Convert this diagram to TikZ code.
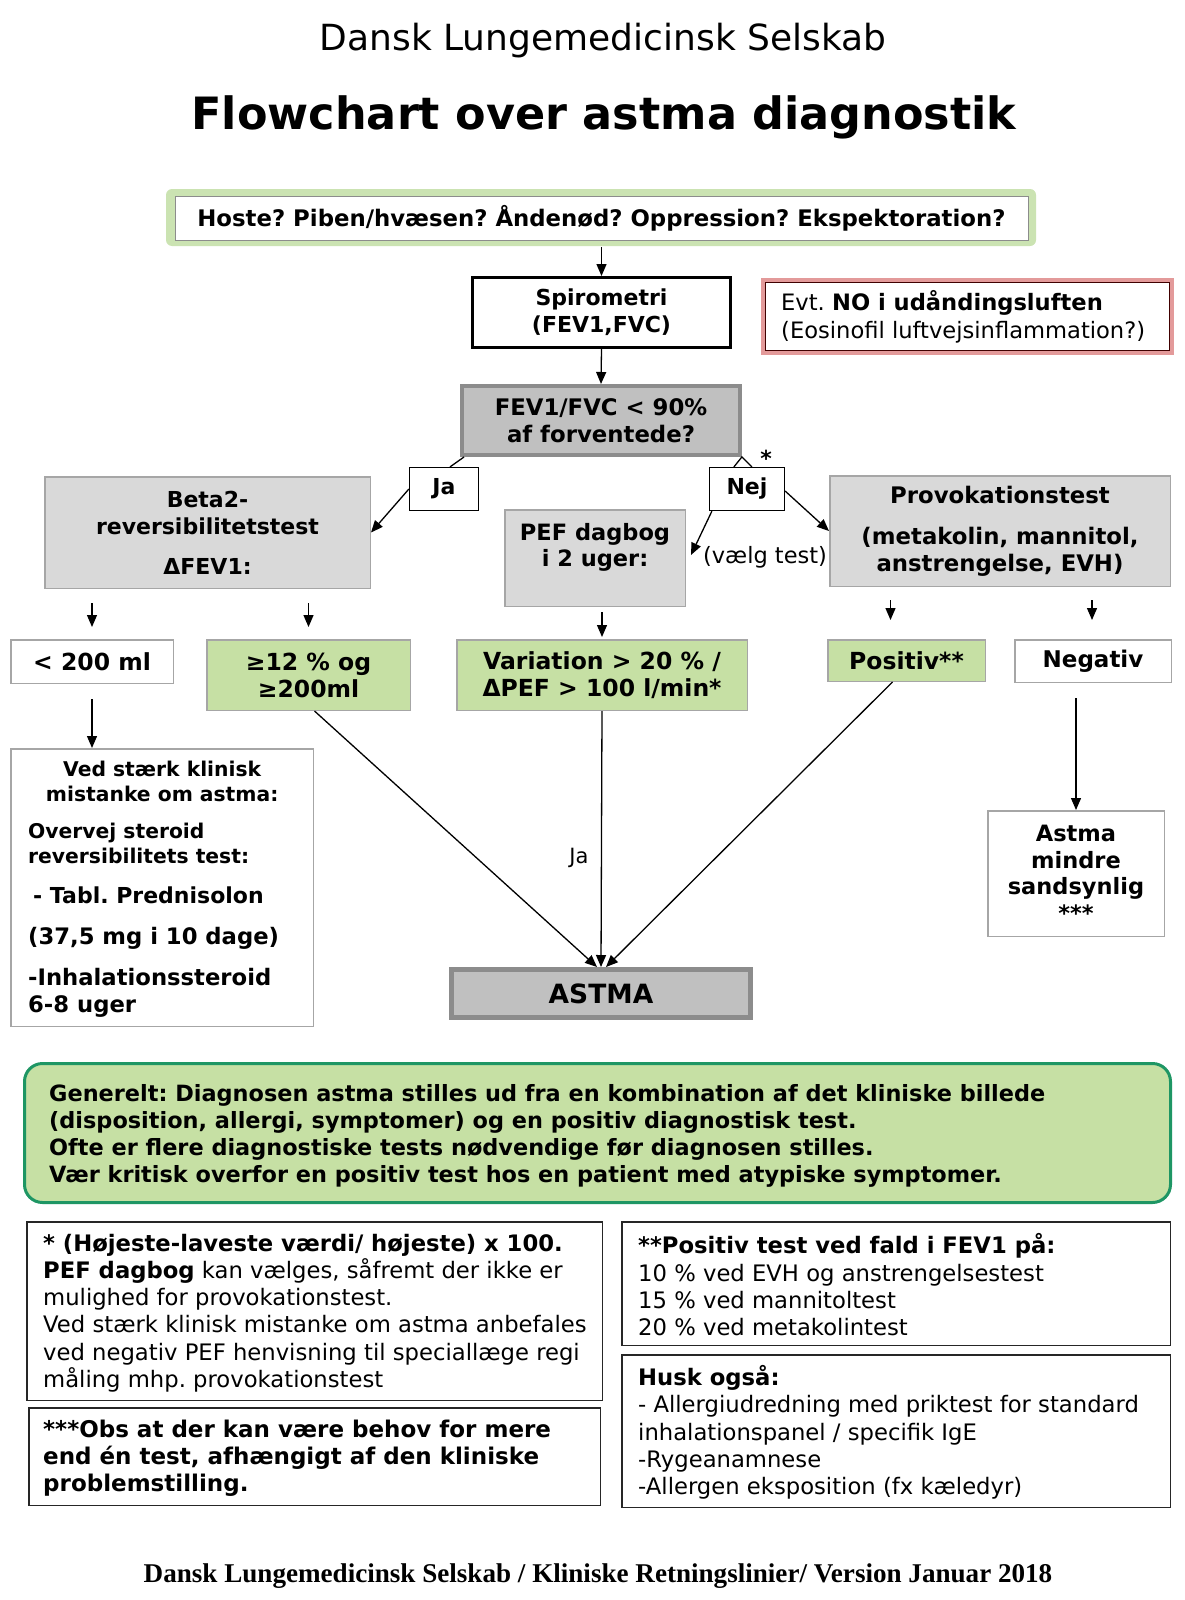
\documentclass[tikz,border=0pt]{standalone}
\usepackage{fontspec}
\setmainfont{DejaVu Sans}
\newfontfamily\footfont{Liberation Serif}
\usetikzlibrary{calc,arrows.meta}
\definecolor{lgreen}{HTML}{C6E0A4}
\definecolor{glow}{HTML}{CBE3B2}
\definecolor{lgray}{HTML}{D9D9D9}
\definecolor{mgray}{HTML}{C0C0C0}
\definecolor{dgray}{HTML}{8C8C8C}
\definecolor{bgray}{HTML}{A6A6A6}
\definecolor{tealg}{HTML}{1E9664}
\definecolor{pinkb}{HTML}{E39A9A}
\newcommand{\fs}[2]{\fontsize{#1}{#2}\selectfont}
\frenchspacing
\begin{document}
\frenchspacing
\begin{tikzpicture}[x=1pt,y=-1pt,
  arr/.style={-{Triangle[length=12pt,width=10pt]}, line width=1.3pt},
  conn/.style={line width=1.3pt},
  base/.style={inner sep=0pt, align=center},
  bfont/.style={font=\bfseries\fs{22}{27}},
  graybox/.style={base, bfont, draw=bgray, fill=lgray, line width=1.5pt},
  greenbox/.style={base, bfont, draw=bgray, fill=lgreen, line width=1.5pt},
  whitebox/.style={base, bfont, draw=bgray, fill=white, line width=1.5pt},
  darkbox/.style={base, bfont, draw=dgray, fill=mgray, line width=4pt},
  lbl/.style={base, bfont, draw=black, fill=white, line width=1.2pt},
  notebox/.style={base, draw=black!85, fill=white, line width=1.5pt},
  txt/.style={inner sep=0pt, align=center},
  ltxt/.style={inner sep=0pt, align=left, anchor=west},
]
\useasboundingbox[fill=white] (0,0) rectangle (1185,1600);

% titles
\node[txt, font=\fs{36}{40}] (t1) at (603,41) {Dansk Lungemedicinsk Selskab};
\node[txt, font=\bfseries\fs{44.5}{50}] (t2) at (604,117) {Flowchart over astma diagnostik};

% symptoms
\fill[glow, rounded corners=6pt] (166,189) rectangle (1036,246);
\node[base, draw=black!45, fill=white, line width=0.8pt, minimum width=853pt, minimum height=44pt, font=\bfseries\fs{22.8}{26}] (hoste) at (601.5,218) {Hoste? Piben/hvæsen? Åndenød? Oppression? Ekspektoration?};

% spirometri
\node[base, bfont, draw=black, fill=white, line width=3pt, minimum width=258pt, minimum height=70pt] (spiro) at (601.5,312.5) {Spirometri\\(FEV1,FVC)};

% NO box
\node[base, draw=pinkb, fill=white, line width=4pt, minimum width=409pt, minimum height=73pt] (no) at (967.5,316.5) {};
\draw[line width=1pt, black!75!red] ($(no.north west)+(4.5,4.5)$) rectangle ($(no.south east)+(-4.5,-4.5)$);
\node[ltxt, font=\fs{22.6}{28}] (not) at (781,317) {Evt. \textbf{NO i udåndingsluften}\\(Eosinofil luftvejsinflammation?)};

% FEV1/FVC
\node[darkbox, minimum width=278pt, minimum height=69pt, font=\bfseries\fs{22.8}{27}] (fev) at (601,420.5) {FEV1/FVC < 90\%\\af forventede?};
\node[txt, font=\bfseries\fs{22}{24}] (star) at (766,458) {*};

% Ja / Nej
\node[lbl, minimum width=69pt, minimum height=43pt] (ja) at (444,489) {Ja};
\node[lbl, minimum width=75pt, minimum height=43pt] (nej) at (747,489) {Nej};

% tests
\node[graybox, minimum width=325.5pt, minimum height=111.5pt] (beta) at (207.5,532.5) {Beta2-\\reversibilitetstest\\[13pt]ΔFEV1:};
\node[graybox, minimum width=180.5pt, minimum height=96.5pt, font=\bfseries\fs{22.5}{26}] (pef) at (595,558) {PEF dagbog\\i 2 uger:\\~};
\node[graybox, minimum width=340.5pt, minimum height=110.5pt, font=\bfseries\fs{22.8}{27}] (provok) at (1000,531) {Provokationstest\\[14pt](metakolin, mannitol,\\anstrengelse, EVH)};
\node[txt, font=\fs{22.5}{24}] (vaelg) at (765,557) {(vælg test)};

% results
\node[whitebox, minimum width=162.5pt, minimum height=43.5pt, font=\bfseries\fs{23.5}{27}] (lt200) at (92,661.5) {< 200 ml};
\node[greenbox, minimum width=203.5pt, minimum height=70.5pt, font=\bfseries\fs{23.5}{27}] (ge12) at (308.5,675) {≥12 \% og\\≥200ml};
\node[greenbox, minimum width=290.5pt, minimum height=70.5pt, font=\bfseries\fs{23.5}{27}] (var) at (602,675) {Variation > 20 \% /\\ΔPEF > 100 l/min*};
\node[greenbox, minimum width=157.5pt, minimum height=41.5pt, font=\bfseries\fs{23.5}{27}] (pos) at (906.5,660.5) {Positiv**};
\node[whitebox, minimum width=156.5pt, minimum height=42.5pt, font=\bfseries\fs{23}{27}] (neg) at (1093,661) {Negativ};

% Ved staerk box
\node[base, draw=bgray, fill=white, line width=1.5pt, minimum width=302.5pt, minimum height=277.5pt] (ved) at (162,887.5) {};
\node[ltxt, font=\bfseries\fs{20.3}{25}] (vedt) at (28,889) {%
\makebox[268pt][c]{Ved stærk klinisk}\\
\makebox[268pt][c]{mistanke om astma:}\\[12pt]
Overvej steroid\\
reversibilitets test:\\[15pt]
{\fs{22}{25}\hspace*{5pt}- Tabl. Prednisolon}\\[16pt]
{\fs{22.7}{25}(37,5 mg i 10 dage)}\\[16pt]
{\fs{22.7}{25}-Inhalationssteroid}\\[2pt]
{\fs{22.7}{25}6-8 uger}};

% ASTMA
\node[base, draw=dgray, fill=mgray, line width=5pt, minimum width=299pt, minimum height=48pt, font=\bfseries\fs{26.5}{30}] (astma) at (601,993.5) {ASTMA};
\node[txt, font=\fs{21}{24}] (jalbl) at (579,858) {Ja};

% Astma mindre sandsynlig
\node[whitebox, minimum width=176.5pt, minimum height=125.5pt, font=\bfseries\fs{22.5}{26.5}] (mindre) at (1076,873.5) {Astma\\mindre\\sandsynlig\\***};

% connectors
\draw[arr] ($(hoste.south)+(0,7)$) -- (spiro.north);
\draw[arr] (spiro.south) -- (fev.north);
\draw[conn] ($(fev.south west)+(4,0)$) -- ($(ja.north)+(6,0)$);
\draw[arr] (ja.west) -- (beta.east);
\draw[conn] ($(nej.north west)+(25,0)$) -- ($(nej.north west)+(33,-10)$) -- ($(nej.north west)+(43,0)$);
\draw[arr] ($(nej.south west)+(3,0)$) -- ($(pef.east)+(5,-3)$);
\draw[arr] ($(nej.east)+(0,2)$) -- (provok.west);
\draw[arr] ($(lt200.north)+(0,-36)$) -- ($(lt200.north)+(0,-12)$);
\draw[arr] ($(ge12.north)+(0,-36)$) -- ($(ge12.north)+(0,-12)$);
\draw[arr] ($(var.north)+(0,-27)$) -- ($(var.north)+(0,-2)$);
\draw[arr] ($(pos.north)+(-16,-39)$) -- ($(pos.north)+(-16,-19)$);
\draw[arr] ($(neg.north)+(-1,-39)$) -- ($(neg.north)+(-1,-19)$);
\draw[arr] ($(lt200.south)+(0,15)$) -- (lt200.south |- ved.north);
\draw[arr] ($(ge12.south)+(6,0)$) -- ($(astma.north)+(-4,0)$);
\draw[arr] (var.south) -- (astma.north);
\draw[arr] ($(pos.south)+(-14,0)$) -- ($(astma.north)+(5,0)$);
\draw[arr] ($(neg.south -| mindre.north)+(0,15)$) -- (mindre.north);

% Generelt
\node[base, draw=tealg, fill=lgreen, line width=3pt, rounded corners=18pt, minimum width=1146pt, minimum height=139pt] (gen) at (597.5,1133) {};
\node[ltxt, font=\bfseries\fs{22.4}{27}] (gent) at (49,1136) {Generelt: Diagnosen astma stilles ud fra en kombination af det kliniske billede\\(disposition, allergi, symptomer) og en positiv diagnostisk test.\\Ofte er flere diagnostiske tests nødvendige før diagnosen stilles.\\Vær kritisk overfor en positiv test hos en patient med atypiske symptomer.};

% notes
\node[notebox, minimum width=575.5pt, minimum height=178.5pt] (b1) at (314.5,1311) {};
\node[ltxt, font=\fs{22.7}{27.3}] (b1t) at (43,1313) {\textbf{* (Højeste-laveste værdi/ højeste) x 100.}\\\textbf{PEF dagbog} kan vælges, såfremt der ikke er\\mulighed for provokationstest.\\Ved stærk klinisk mistanke om astma anbefales\\ved negativ PEF henvisning til speciallæge regi\\måling mhp. provokationstest};
\node[notebox, minimum width=571.5pt, minimum height=97.5pt] (b2) at (314.5,1456.5) {};
\node[ltxt, font=\bfseries\fs{23}{27}] (b2t) at (43,1458.5) {***Obs at der kan være behov for mere\\end én test, afhængigt af den kliniske\\problemstilling.};
\node[notebox, minimum width=548.5pt, minimum height=123.5pt] (b3) at (896,1283.5) {};
\node[ltxt, font=\fs{22.7}{27.3}] (b3t) at (638,1285) {\textbf{**Positiv test ved fald i FEV1 på:}\\10 \% ved EVH og anstrengelsestest\\15 \% ved mannitoltest\\20 \% ved metakolintest};
\node[notebox, minimum width=548.5pt, minimum height=152.5pt] (b4) at (896,1431) {};
\node[ltxt, font=\fs{22.7}{27.3}] (b4t) at (638,1432.5) {\textbf{Husk også:}\\- Allergiudredning med priktest for standard\\inhalationspanel / specifik IgE\\-Rygeanamnese\\-Allergen eksposition (fx kæledyr)};

% footer
\node[txt, font=\footfont\bfseries\fs{27.1}{30}] (foot) at (598,1576) {Dansk Lungemedicinsk Selskab / Kliniske Retningslinier/ Version Januar 2018};
\end{tikzpicture}
\end{document}
